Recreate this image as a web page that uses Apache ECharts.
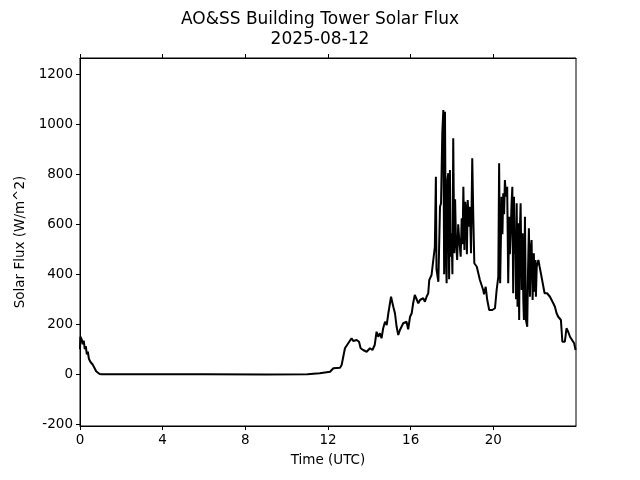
<!DOCTYPE html>
<html>
<head>
<meta charset="utf-8">
<script src="https://cdn.jsdelivr.net/npm/echarts@6/dist/echarts.min.js"></script>
<style>html,body{margin:0;padding:0;background:#fff}#c{width:640px;height:480px}</style>
</head>
<body>
<div id="c"></div>
<script>
var titleText = 'AO&SS Building Tower Solar Flux\n2025-08-12';
var xTicks = [0, 4, 8, 12, 16, 20];
var yTicks = [-200, 0, 200, 400, 600, 800, 1000, 1200];
var hours = [0.00,0.02,0.08,0.13,0.18,0.23,0.28,0.33,0.38,0.43,0.50,0.56,0.62,0.68,0.72,0.78,0.85,0.95,1.05,
  3.0,6.0,9.0,11.0,11.6,12.1,12.26,12.58,12.66,12.82,12.9,12.98,13.14,13.22,13.39,13.5,13.58,13.7,13.87,
  14.03,14.15,14.26,14.35,14.43,14.51,14.59,14.67,14.76,14.84,14.92,15.0,15.05,15.13,15.16,15.24,15.32,15.4,
  15.48,15.64,15.72,15.8,15.88,15.97,16.05,16.12,16.2,16.29,16.37,16.45,16.53,16.61,16.69,16.77,16.85,16.9,
  17.01,17.09,17.17,17.22,17.25,17.34,17.42,17.47,17.53,17.58,17.62,17.66,17.7,17.74,17.78,17.82,17.86,17.9,
  17.93,17.98,18.02,18.06,18.11,18.15,18.19,18.25,18.3,18.35,18.42,18.47,18.51,18.55,18.6,18.64,18.68,18.72,
  18.76,18.82,18.87,18.92,18.98,19.03,19.08,19.2,19.27,19.35,19.43,19.51,19.55,19.63,19.7,19.8,19.95,20.08,
  20.16,20.24,20.28,20.33,20.4,20.44,20.48,20.52,20.56,20.61,20.67,20.72,20.77,20.8,20.84,20.88,20.92,20.96,
  21.0,21.04,21.07,21.1,21.13,21.17,21.2,21.25,21.28,21.32,21.37,21.42,21.45,21.48,21.53,21.58,21.64,21.68,
  21.72,21.77,21.81,21.85,21.9,21.96,22.0,22.04,22.06,22.1,22.18,22.24,22.3,22.39,22.48,22.6,22.74,22.82,
  22.9,22.98,23.06,23.14,23.27,23.34,23.46,23.54,23.62,23.71,23.8,23.91,23.98];
var flux = [100,150,140,120,135,100,112,80,90,62,50,45,38,40,22,12,5,1,0,
  0,0,-1,0,4,10,24,26,37,104,110,124,144,133,137,130,104,97,90,
  104,97,117,170,150,164,144,184,210,197,244,237,310,317,270,244,190,157,
  177,204,197,210,180,230,244,284,317,324,284,297,290,304,290,310,324,377,
  397,404,510,790,420,370,670,684,964,1057,400,1050,500,364,780,804,380,817,
  470,564,400,944,484,700,537,457,600,537,470,624,520,750,497,690,657,480,
  697,590,670,484,864,630,444,430,424,377,370,337,320,350,300,257,257,264,
  337,390,844,364,710,560,724,640,777,710,750,364,630,480,564,680,750,324,
  710,480,564,300,684,270,604,217,560,684,337,564,300,217,630,217,190,420,
  584,310,500,537,297,484,330,457,310,430,457,430,404,364,324,324,310,297,
  284,270,244,230,217,130,130,184,170,150,144,124,97];

var points = hours.map(function (h, i) { return [h, flux[i]]; });
var font = 'DejaVu Sans';
var chart = echarts.init(document.getElementById('c'), null, {renderer: 'canvas'});
chart.setOption({
  animation: false,
  backgroundColor: '#ffffff',
  title: {
    text: titleText, left: 'center', top: 5,
    textStyle: {fontFamily: font, fontSize: 17, fontWeight: 'normal', color: '#000', lineHeight: 20}
  },
  grid: {left: 80, right: 64, top: 58, bottom: 54, show: true, borderColor: '#000', borderWidth: 1, backgroundColor: 'transparent'},
  xAxis: [{
    type: 'value', min: 0, max: 24, position: 'bottom',
    name: 'Time (UTC)', nameLocation: 'middle', nameGap: 27,
    nameTextStyle: {fontFamily: font, fontSize: 13.5, color: '#000'},
    axisLine: {show: true, onZero: false, lineStyle: {color: '#000', width: 1}},
    axisTick: {show: true, length: 4, customValues: xTicks, lineStyle: {color: '#000'}},
    axisLabel: {fontFamily: font, fontSize: 13.5, color: '#000', margin: 7, customValues: xTicks,
      formatter: function (v) { return String(v); }},
    splitLine: {show: false}
  }, {
    type: 'value', min: 0, max: 24, position: 'top',
    axisLine: {show: true, onZero: false, lineStyle: {color: '#000', width: 1}},
    axisTick: {show: true, length: 4, customValues: xTicks, lineStyle: {color: '#000'}},
    axisLabel: {show: false},
    splitLine: {show: false}
  }],
  yAxis: {
    type: 'value', min: -207, max: 1265,
    name: 'Solar Flux (W/m^2)', nameLocation: 'middle', nameGap: 49,
    nameTextStyle: {fontFamily: font, fontSize: 13.5, color: '#000'},
    axisLine: {show: true, onZero: false, lineStyle: {color: '#000', width: 1}},
    axisTick: {show: true, length: 4, customValues: yTicks, lineStyle: {color: '#000'}},
    axisLabel: {fontFamily: font, fontSize: 13.5, color: '#000', margin: 7, customValues: yTicks,
      formatter: function (v) { return String(v); }},
    splitLine: {show: false}
  },
  series: [{
    type: 'line', data: points, xAxisIndex: 0, showSymbol: false, symbol: 'none',
    lineStyle: {color: '#000', width: 2}, z: 3
  }]
});
</script>
</body>
</html>
